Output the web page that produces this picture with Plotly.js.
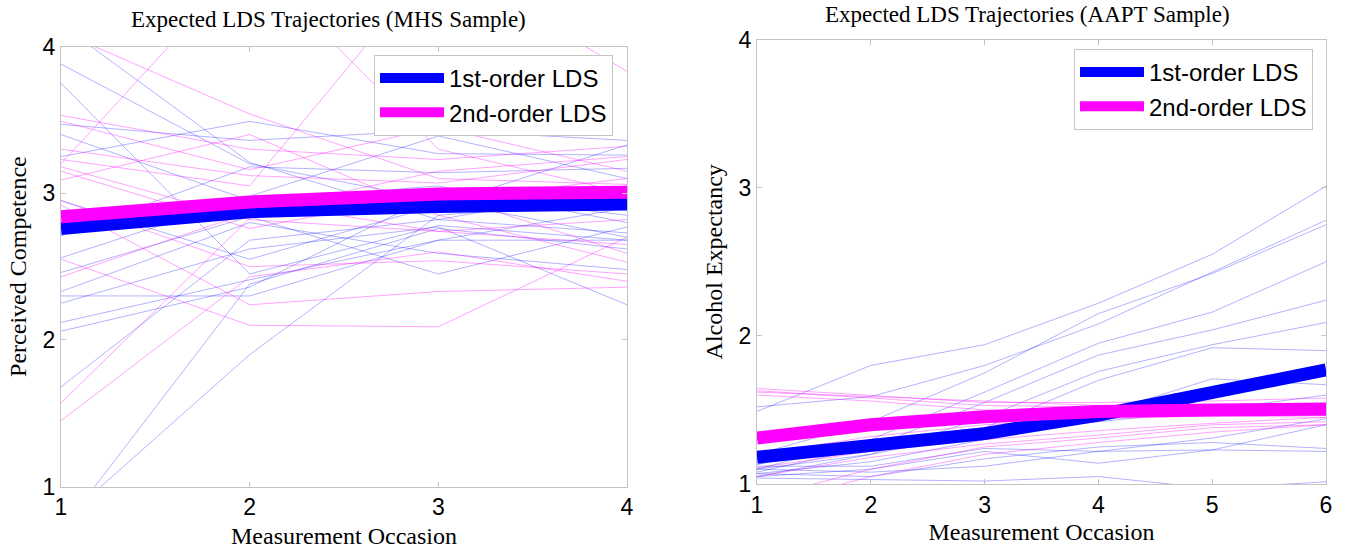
<!DOCTYPE html>
<html><head><meta charset="utf-8">
<script src="https://cdn.plot.ly/plotly-3.0.1.min.js"></script>
<style>html,body{margin:0;padding:0;background:#fff}#chart{width:1350px;height:555px}</style>
</head><body><div id="chart"></div>
<script>
// ---- data ----
const mhsOccasions = [1, 2, 3, 4];
const aaptOccasions = [1, 2, 3, 4, 5, 6];
const tickValuesY = [1, 2, 3, 4];
const tickLabelsY = ['1', '2', '3', '4'];
const tickValuesMhsX = [1, 2, 3, 4];
const tickValuesAaptX = [1, 2, 3, 4, 5, 6];
const seriesNames = ['1st-order LDS', '2nd-order LDS'];

const mhsFirstMean = [2.76, 2.874, 2.91, 2.926];
const mhsSecondMean = [2.84, 2.94, 2.995, 3.006];
const aaptFirstMean = [1.18, 1.25, 1.34, 1.465, 1.61, 1.77];
const aaptSecondMean = [1.31, 1.40, 1.454, 1.49, 1.50, 1.504];

const mhsFirstIndividuals = [
  [3.88, 3.20, 2.95, 2.70],
  [3.75, 2.45, 2.78, 2.68],
  [3.47, 3.36, 3.43, 3.36],
  [3.25, 3.49, 3.27, 3.26],
  [4.15, 3.21, 2.82, 2.73],
  [2.71, 3.18, 3.14, 3.17],
  [2.56, 2.98, 3.39, 3.10],
  [2.46, 2.84, 2.45, 2.77],
  [2.33, 2.80, 2.59, 2.48],
  [2.30, 2.30, 2.68, 2.68],
  [2.25, 2.62, 2.77, 2.24],
  [2.12, 2.41, 2.68, 2.90],
  [2.06, 2.36, 3.00, 2.85],
  [1.68, 2.68, 2.82, 3.05],
  [0.76, 1.90, 2.85, 2.95],
  [0.70, 2.38, 2.76, 2.62],
  [3.40, 2.95, 3.05, 2.80],
  [2.95, 2.55, 2.92, 3.33]
];
const mhsSecondIndividuals = [
  [4.10, 3.54, 3.10, 3.06],
  [3.53, 3.30, 3.23, 3.32],
  [3.49, 3.16, 3.45, 3.15],
  [3.30, 3.12, 3.07, 3.23],
  [3.23, 3.05, 4.60, 3.83],
  [3.18, 2.82, 2.74, 2.82],
  [3.15, 2.76, 3.00, 2.59],
  [3.09, 3.40, 2.85, 2.53],
  [2.95, 2.50, 2.54, 2.45],
  [2.92, 2.24, 2.33, 2.36],
  [2.55, 2.10, 2.09, 2.70],
  [2.43, 2.87, 3.15, 3.25],
  [1.57, 2.83, 2.95, 3.10],
  [1.45, 2.43, 2.60, 2.40],
  [3.20, 4.60, 3.30, 3.00],
  [2.80, 2.95, 2.74, 2.65]
];
const aaptFirstIndividuals = [
  [1.49, 1.80, 1.94, 2.22, 2.55, 3.01],
  [1.52, 1.59, 1.80, 2.08, 2.43, 2.78],
  [1.20, 1.42, 1.75, 2.15, 2.42, 2.75],
  [1.10, 1.30, 1.62, 1.95, 2.16, 2.50],
  [1.08, 1.25, 1.55, 1.87, 2.04, 2.24],
  [1.05, 1.20, 1.45, 1.76, 1.94, 2.09],
  [1.13, 1.30, 1.38, 1.70, 1.92, 1.90],
  [1.07, 1.15, 1.30, 1.47, 1.71, 1.67],
  [1.10, 1.20, 1.35, 1.42, 1.50, 1.60],
  [1.12, 1.12, 1.24, 1.22, 1.31, 1.44],
  [1.05, 1.10, 1.22, 1.14, 1.23, 1.40],
  [1.07, 1.05, 1.17, 1.25, 1.28, 1.24],
  [1.10, 1.08, 1.12, 1.22, 1.23, 1.22],
  [1.04, 1.03, 1.02, 1.05, 0.97, 1.015]
];
const aaptSecondIndividuals = [
  [1.645, 1.60, 1.55, 1.55, 1.56, 1.58],
  [1.63, 1.58, 1.53, 1.52, 1.53, 1.55],
  [1.60, 1.56, 1.50, 1.48, 1.46, 1.45],
  [1.62, 1.59, 1.56, 1.53, 1.49, 1.47],
  [1.11, 1.22, 1.30, 1.36, 1.41, 1.45],
  [1.05, 1.18, 1.27, 1.33, 1.40, 1.42],
  [0.90, 1.10, 1.25, 1.31, 1.38, 1.40],
  [0.85, 1.05, 1.20, 1.28, 1.35, 1.40],
  [1.20, 1.32, 1.40, 1.44, 1.46, 1.48],
  [1.35, 1.42, 1.46, 1.48, 1.50, 1.52]
];

// ---- styles ----
const serif = 'Liberation Serif, Times New Roman, serif';
const sans = 'Liberation Sans, Arial, sans-serif';
const blue = '#0000ff', magenta = '#ff00ff';
const blueThin = 'rgba(0,0,255,0.30)', magentaThin = 'rgba(255,0,255,0.36)';

const traces = [];
function addThin(xs, rows, color, xa, ya) {
  rows.forEach(r => traces.push({x: xs, y: r, type: 'scatter', mode: 'lines',
    line: {color: color, width: 1}, showlegend: false, hoverinfo: 'skip', xaxis: xa, yaxis: ya}));
}
addThin(mhsOccasions, mhsFirstIndividuals, blueThin, 'x', 'y');
addThin(mhsOccasions, mhsSecondIndividuals, magentaThin, 'x', 'y');
addThin(aaptOccasions, aaptFirstIndividuals, blueThin, 'x2', 'y2');
addThin(aaptOccasions, aaptSecondIndividuals, magentaThin, 'x2', 'y2');

traces.push({x: mhsOccasions, y: mhsFirstMean, type: 'scatter', mode: 'lines', name: seriesNames[0],
  line: {color: blue, width: 13}, xaxis: 'x', yaxis: 'y', legend: 'legend'});
traces.push({x: mhsOccasions, y: mhsSecondMean, type: 'scatter', mode: 'lines', name: seriesNames[1],
  line: {color: magenta, width: 13}, xaxis: 'x', yaxis: 'y', legend: 'legend'});
traces.push({x: aaptOccasions, y: aaptFirstMean, type: 'scatter', mode: 'lines', name: seriesNames[0],
  line: {color: blue, width: 13}, xaxis: 'x2', yaxis: 'y2', legend: 'legend2'});
traces.push({x: aaptOccasions, y: aaptSecondMean, type: 'scatter', mode: 'lines', name: seriesNames[1],
  line: {color: magenta, width: 13}, xaxis: 'x2', yaxis: 'y2', legend: 'legend2'});

const axisCommon = {
  showgrid: false, zeroline: false, showline: true, linecolor: '#c4c4c4', linewidth: 1,
  mirror: 'ticks', ticks: 'inside', ticklen: 5, tickcolor: '#c4c4c4', tickwidth: 1,
  tickfont: {family: sans, size: 23, color: '#000'}, fixedrange: true
};
const plotTitleFont = {family: serif, size: 23, color: '#000'};
const axisTitleFont = {family: serif, size: 24, color: '#000'};
const legendCommon = {
  bgcolor: '#fff', bordercolor: '#c4c4c4', borderwidth: 1,
  font: {family: sans, size: 24, color: '#000'}, itemwidth: 64,
  xanchor: 'right', yanchor: 'top', xref: 'paper', yref: 'paper', tracegroupgap: 0
};

const layout = {
  width: 1350, height: 555, margin: {l: 0, r: 0, t: 0, b: 0},
  paper_bgcolor: '#fff', plot_bgcolor: '#fff', showlegend: true,
  xaxis: Object.assign({}, axisCommon, {domain: [61/1350, 627/1350], range: [1, 4], tickvals: tickValuesMhsX,
    anchor: 'y', title: {text: 'Measurement Occasion', font: axisTitleFont, standoff: 7}}),
  yaxis: Object.assign({}, axisCommon, {domain: [1 - 486.7/555, 1 - 46.5/555], range: [1, 4], tickvals: tickValuesY,
    ticktext: tickLabelsY, anchor: 'x', title: {text: 'Perceived Competence', font: axisTitleFont, standoff: 9}}),
  xaxis2: Object.assign({}, axisCommon, {domain: [757/1350, 1326/1350], range: [1, 6], tickvals: tickValuesAaptX,
    anchor: 'y2', title: {text: 'Measurement Occasion', font: axisTitleFont, standoff: 6}}),
  yaxis2: Object.assign({}, axisCommon, {domain: [1 - 484/555, 1 - 39.5/555], range: [1, 4], tickvals: tickValuesY,
    ticktext: tickLabelsY, anchor: 'x2', title: {text: 'Alcohol Expectancy', font: axisTitleFont, standoff: 9}}),
  legend: Object.assign({}, legendCommon, {x: 613/1350, y: 1 - 55/555}),
  legend2: Object.assign({}, legendCommon, {x: 1313/1350, y: 1 - 49/555}),
  annotations: [
    {text: 'Expected LDS Trajectories (MHS Sample)', xref: 'paper', yref: 'paper', x: 328/1350, y: 1 - 20/555,
      xanchor: 'center', yanchor: 'middle', showarrow: false, font: plotTitleFont},
    {text: 'Expected LDS Trajectories (AAPT Sample)', xref: 'paper', yref: 'paper', x: 1027/1350, y: 1 - 15/555,
      xanchor: 'center', yanchor: 'middle', showarrow: false, font: plotTitleFont}
  ]
};

Plotly.newPlot('chart', traces, layout, {displayModeBar: false, staticPlot: true});
</script>
</body></html>
